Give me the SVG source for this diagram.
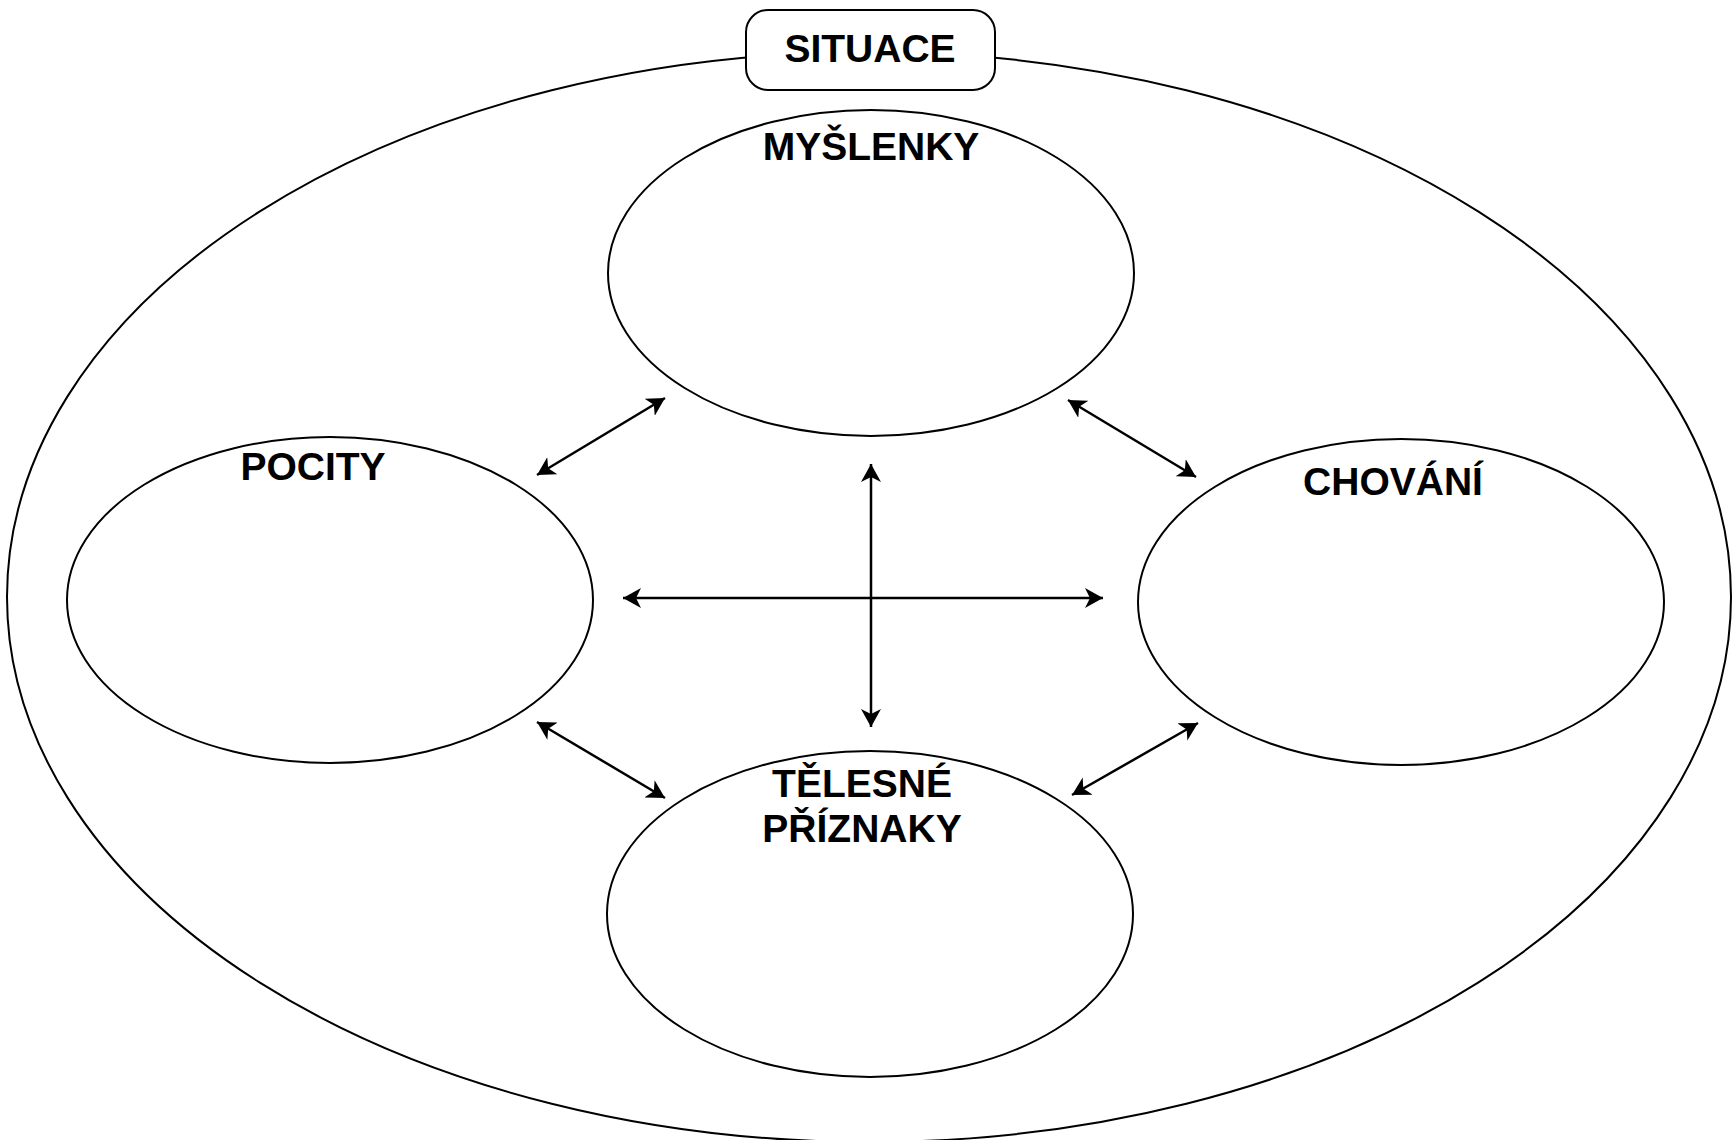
<svg xmlns="http://www.w3.org/2000/svg" width="1732" height="1140" viewBox="0 0 1732 1140">
<style>
.sh{fill:none;stroke:#000;stroke-width:2}
.lbl{font-family:"Liberation Sans",Arial,sans-serif;font-weight:bold;font-size:39px;fill:#000;text-anchor:middle}
.con{stroke:#000;stroke-width:2.5;fill:none;marker-start:url(#ah);marker-end:url(#ah)}
</style>
<defs>
<marker id="ah" viewBox="0 0 20 20" refX="18" refY="10" markerWidth="20" markerHeight="20" markerUnits="userSpaceOnUse" orient="auto-start-reverse">
<path d="M0,0 L18,10 L0,20 L5,10 Z" fill="#000"/>
</marker>
</defs>
<rect width="1732" height="1140" fill="#fff"/>
<g id="situace-area">
<ellipse class="sh" cx="869" cy="597" rx="862" ry="545"/>
</g>
<g id="situace">
<rect x="746" y="10" width="249" height="80" rx="22" fill="#fff" stroke="#000" stroke-width="2"/>
<text class="lbl" x="870" y="62">SITUACE</text>
</g>
<g id="myslenky">
<ellipse class="sh" cx="871" cy="273" rx="263" ry="163"/>
<text class="lbl" x="871" y="160">MYŠLENKY</text>
</g>
<g id="pocity">
<ellipse class="sh" cx="330" cy="600" rx="263" ry="163"/>
<text class="lbl" x="313" y="480">POCITY</text>
</g>
<g id="chovani">
<ellipse class="sh" cx="1401" cy="602" rx="263" ry="163"/>
<text class="lbl" x="1393" y="495">CHOVÁNÍ</text>
</g>
<g id="telesne">
<ellipse class="sh" cx="870" cy="914" rx="263" ry="163"/>
<text class="lbl" x="862" y="797">TĚLESNÉ</text>
<text class="lbl" x="862" y="842">PŘÍZNAKY</text>
</g>
<g id="connectors">
<line class="con" x1="623" y1="598" x2="1103" y2="598"/>
<line class="con" x1="871" y1="464" x2="871" y2="727"/>
<line class="con" x1="537" y1="475" x2="665" y2="398"/>
<line class="con" x1="1068" y1="400" x2="1196" y2="477"/>
<line class="con" x1="537" y1="722" x2="665" y2="798"/>
<line class="con" x1="1072" y1="795" x2="1198" y2="723"/>
</g>
</svg>
